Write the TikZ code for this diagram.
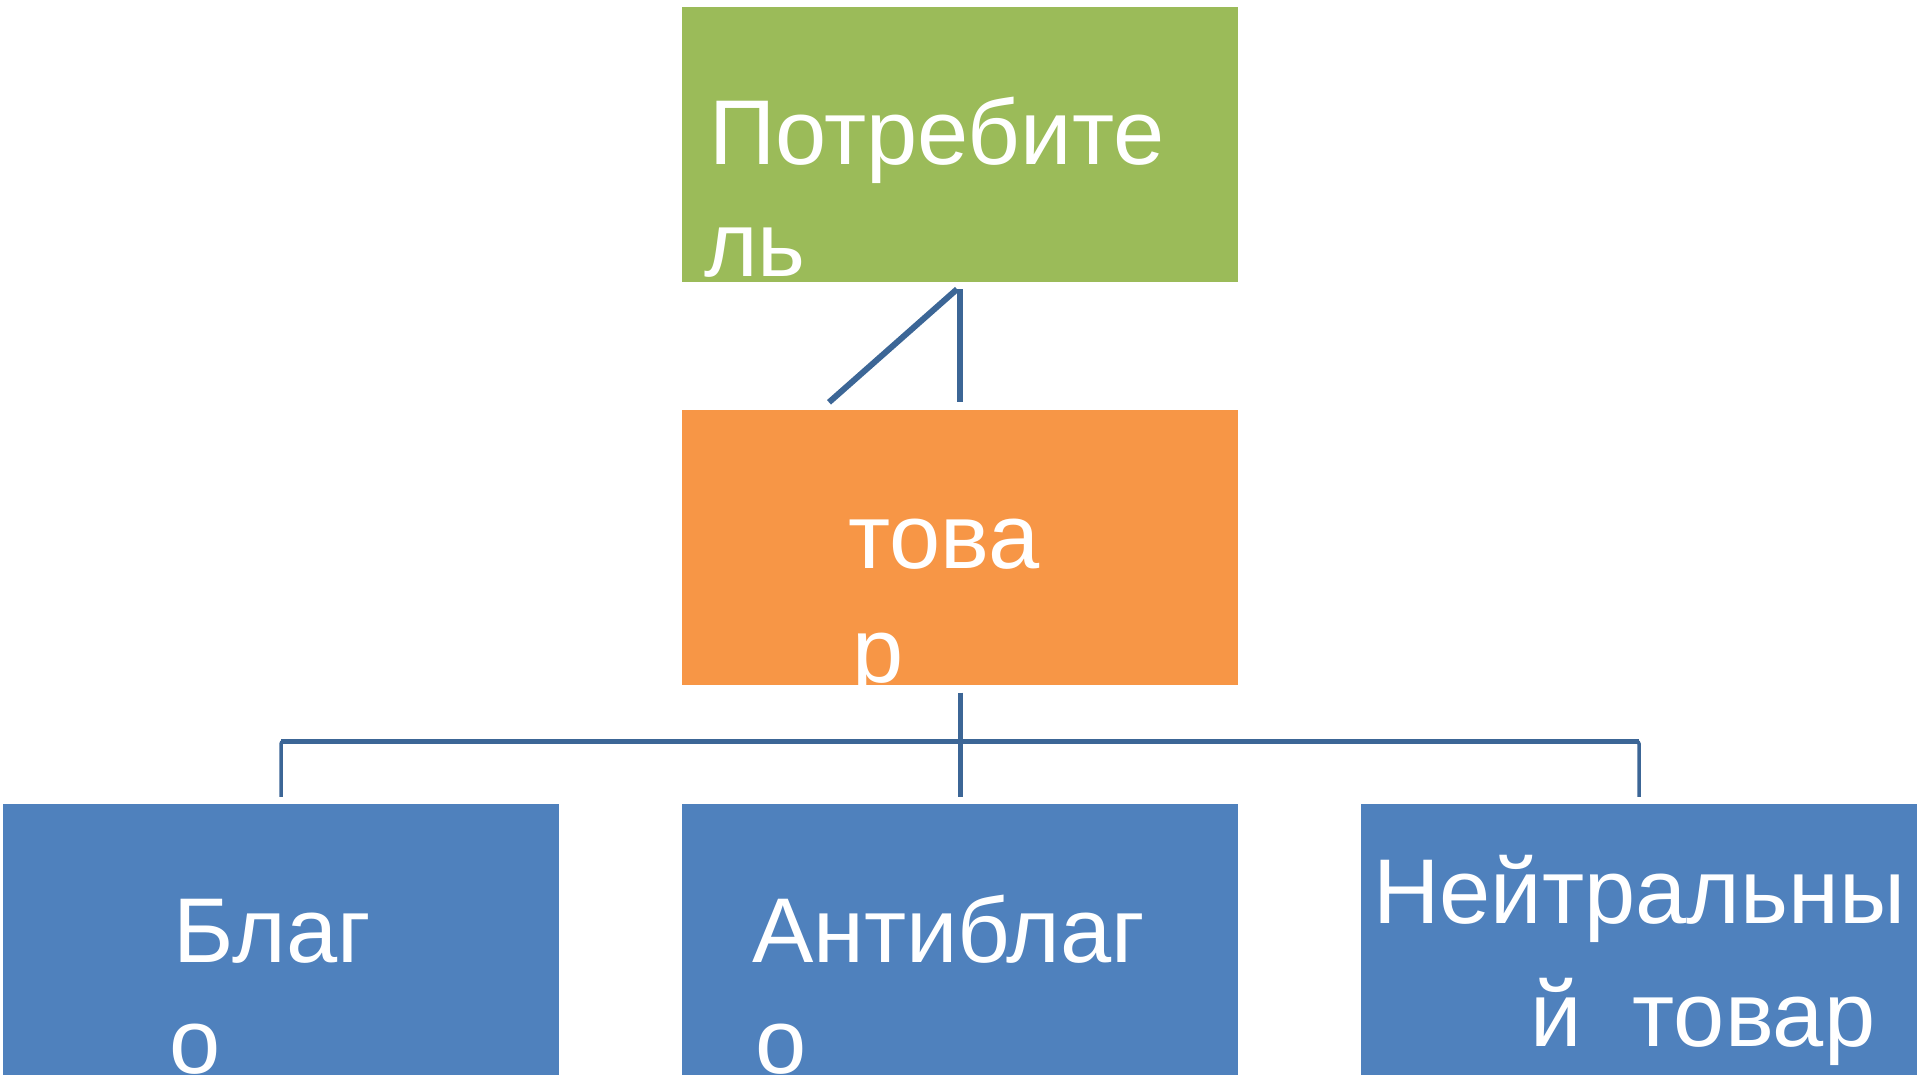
\documentclass[tikz,border=0pt]{standalone}
\usepackage{fontspec}
\setmainfont{Liberation Sans}
\definecolor{cgreen}{HTML}{9BBB59}
\definecolor{corange}{HTML}{F79646}
\definecolor{cblue}{HTML}{4F81BD}
\definecolor{cline}{HTML}{3C6696}
\begin{document}
\begin{tikzpicture}[x=1pt,y=-1pt,
  box/.style={draw=none,rectangle,minimum width=556pt,minimum height=275pt,inner sep=0pt},
  lbl/.style={anchor=base west,inner sep=0pt,text=white,font=\fontsize{92}{110}\selectfont},
  conn/.style={draw=cline,line width=6pt},
  bus/.style={draw=cline,line width=5pt},
  drop/.style={draw=cline,line width=3.5pt}]
\useasboundingbox (0,0) rectangle (1920,1075);
\node[box,fill=cgreen] (green) at (960,144.5) {};
\node[box,fill=corange] (orange) at (960,547) {};
\node[box,fill=cblue] (b1) at (281,941.5) {};
\node[box,fill=cblue] (b2) at (960,941.5) {};
\node[box,fill=cblue] (b3) at (1639,941.5) {};
% texts
\node[lbl] (t1a) at (709,165) {Потребите};
\node[lbl] (t1b) at (704,277) {ль};
\begin{scope}
\clip (orange.south west) rectangle (orange.north east);
\node[lbl] (t2a) at (848,568) {това};
\node[lbl] (t2b) at (852,682) {р};
\end{scope}
\node[lbl] (t3a) at (173,962) {Благ};
\node[lbl] (t3b) at (169,1073) {о};
\node[lbl] (t4a) at (752,962) {Антиблаг};
\node[lbl] (t4b) at (755,1073) {о};
\node[lbl] (t5a) at (1373,923) {Нейтральны};
\node[lbl] (t5b) at (1530,1046) {й\ \ товар};
% connectors
\draw[conn] ([yshift=-7pt]green.south) -- ([yshift=7pt]orange.north);
\draw[conn] ([xshift=-3pt,yshift=-7pt]green.south) -- ([xshift=-131pt,yshift=7pt]orange.north);
\draw[conn,line width=5pt] ([yshift=-8pt]orange.south) -- ([yshift=7pt]b2.north);
\draw[bus] ([yshift=62pt]b1.north) -- ([yshift=62pt]b3.north);
\draw[drop,rounded corners=2pt] ([yshift=7pt]b1.north) -- ([yshift=62pt]b1.north) -- ([xshift=10pt,yshift=62pt]b1.north);
\draw[drop,rounded corners=2pt] ([yshift=7pt]b3.north) -- ([yshift=62pt]b3.north) -- ([xshift=-10pt,yshift=62pt]b3.north);
\end{tikzpicture}
\end{document}
